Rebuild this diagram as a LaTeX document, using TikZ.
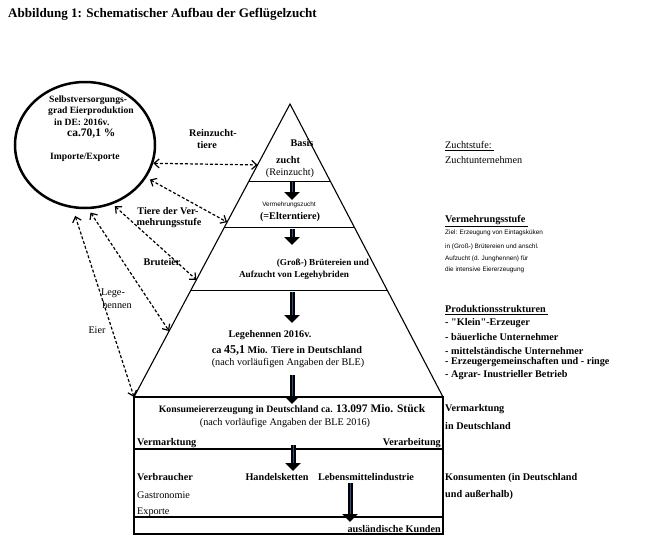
\documentclass[tikz,border=0pt]{standalone}
\usepackage{fontspec}
\setmainfont{Liberation Serif}
\newfontfamily\arialfont{Liberation Sans}
\usepackage{tikz}
\usetikzlibrary{shapes.geometric, arrows.meta, positioning, calc}
\definecolor{pfeilblau}{RGB}{45,80,140}

\begin{document}
\begin{tikzpicture}[x=1pt,y=-1pt,
    txt/.style={inner sep=0pt,font=\fontsize{10.2}{11}\selectfont},
    fett/.style={inner sep=0pt,font=\fontsize{10.2}{11}\selectfont\bfseries},
    klein/.style={inner sep=0pt,font=\fontsize{6.4}{7}\selectfont\arialfont},
    dickpfeil/.style={line width=5pt,-{Triangle[width=15pt,length=8pt]},
        postaction={draw=pfeilblau,line width=1pt,-,shorten >=8pt}},
    wechsel/.style={dash pattern=on 3pt off 2pt,line width=1.2pt,
        {Straight Barb[length=5pt,width=9pt]}-{Straight Barb[length=5pt,width=9pt]}}]
    \useasboundingbox (0,0) rectangle (660,557);

    % Titel
    \node[anchor=west,inner sep=0pt,font=\fontsize{13.1}{15}\selectfont\bfseries] (titel) at (8,14) {Abbildung 1: Schematischer Aufbau der Geflügelzucht};

    % Selbstversorgungsgrad
    \node[ellipse,draw,line width=2.5pt,minimum width=140pt,minimum height=126pt] (selbst) at (85,145) {};
    \node[fett,anchor=west,font=\fontsize{9.6}{10}\selectfont\bfseries] (sv1) at (49,100) {Selbstversorgungs-};
    \node[fett,anchor=west,font=\fontsize{9.6}{10}\selectfont\bfseries] (sv2) at (48,111) {grad Eierproduktion};
    \node[fett,anchor=west,font=\fontsize{9.6}{10}\selectfont\bfseries] (sv3) at (54,122) {in DE: 2016v.};
    \node[fett,anchor=west,font=\fontsize{11.5}{12}\selectfont\bfseries] (sv4) at (67,134) {ca.70,1 \%};
    \node[fett,anchor=west,font=\fontsize{9.6}{10}\selectfont\bfseries] (sv5) at (50,157) {Importe/Exporte};

    % Pyramide
    \coordinate (spitze) at (290,104);
    \coordinate (lu) at (134,397);
    \coordinate (ru) at (443,397);
    \draw[line width=1.1pt] (spitze) -- (lu) -- (ru) -- cycle;
    \foreach \t in {0.263,0.423,0.638}
        \draw[line width=1.1pt] ($(spitze)!\t!(lu)$) -- ($(spitze)!\t!(ru)$);

    % Basiszucht
    \node[fett] (basis) at (302,143) {Basis};
    \node[fett] (zucht) at (288,160) {zucht};
    \node[txt] (rein) at (290,173) {(Reinzucht)};

    % Vermehrungszucht
    \node[klein] (verm) at (289,205) {Vermehrungszucht};
    \node[fett] (eltern) at (290,217) {(=Elterntiere)};

    % Brütereien
    \node[fett,font=\fontsize{9.2}{10}\selectfont\bfseries] (brut1) at (323,263) {(Groß-) Brütereien und};
    \node[fett,font=\fontsize{9.2}{10}\selectfont\bfseries] (brut2) at (294,275) {Aufzucht von Legehybriden};

    % Legehennen
    \node[fett] (lh1) at (270,335) {Legehennen 2016v.};
    \node[fett] (lh2) at (287,350) {ca {\fontsize{12}{13}\selectfont 45,1} Mio. Tiere in Deutschland};
    \node[txt] (lh3) at (288,363) {(nach vorläufigen Angaben der BLE)};

    % Vermarktung
    \draw[line width=1.2pt] (lu) rectangle (443,534);
    \draw[line width=1.1pt] (134,449) -- (443,449);
    \draw[line width=1.1pt] (134,517) -- (443,517);
    \node[fett,font=\fontsize{9.8}{11}\selectfont\bfseries] (konsum) at (292,410) {Konsumeiererzeugung in Deutschland ca. {\fontsize{11.5}{12}\selectfont 13.097 Mio. Stück}};
    \node[txt] (konsum2) at (285,423) {(nach vorläufige Angaben der BLE 2016)};
    \node[fett,anchor=west] (vmk) at (137,443) {Vermarktung};
    \node[fett,anchor=east] (vab) at (441,443) {Verarbeitung};
    \node[fett,anchor=west] (verbr) at (137,477) {Verbraucher};
    \node[fett] (handel) at (277,477) {Handelsketten};
    \node[fett] (lmi) at (366,477) {Lebensmittelindustrie};
    \node[txt,anchor=west] (gastro) at (137,495) {Gastronomie};
    \node[txt,anchor=west] (export) at (137,512) {Exporte};
    \node[fett,anchor=east] (ausl) at (441,529) {ausländische Kunden};

    % dicke Pfeile
    \coordinate (p1o) at (292,182); \coordinate (p1u) at (292,200);
    \coordinate (p2o) at (292,229); \coordinate (p2u) at (292,245);
    \coordinate (p3o) at (292,292); \coordinate (p3u) at (292,323);
    \coordinate (p4o) at (292,375); \coordinate (p4u) at (292,404);
    \coordinate (p5o) at (293,445); \coordinate (p5u) at (293,471);
    \coordinate (p6o) at (350,483); \coordinate (p6u) at (350,522);
    \draw[dickpfeil] (p1o) -- (p1u);
    \draw[dickpfeil] (p2o) -- (p2u);
    \draw[dickpfeil] (p3o) -- (p3u);
    \draw[dickpfeil] (p4o) -- (p4u);
    \draw[dickpfeil] (p5o) -- (p5u);
    \draw[dickpfeil] (p6o) -- (p6u);

    % Austausch mit dem Ausland
    \coordinate (e1) at ($(spitze)!0.208!(lu)$);
    \coordinate (e2) at ($(spitze)!0.403!(lu)$);
    \coordinate (e3) at ($(spitze)!0.60!(lu)$);
    \coordinate (e4) at ($(spitze)!0.775!(lu)$);
    \draw[wechsel] (selbst.-15) -- (e1);
    \draw[wechsel,shorten <=4pt] (selbst.-28) -- (e2);
    \draw[wechsel,shorten <=3pt] (selbst.-65) -- (e3);
    \draw[wechsel,shorten <=4pt] (selbst.-87) -- (e4);
    \draw[wechsel,shorten <=8pt] (selbst.-101) -- (lu);
    \node[fett] (l1a) at (213,133) {Reinzucht-};
    \node[fett] (l1b) at (207,145) {tiere};
    \node[fett] (l2a) at (168,211) {Tiere der Ver-};
    \node[fett] (l2b) at (169,223) {mehrungsstufe};
    \node[fett] (l3) at (162,262) {Bruteier};
    \node[txt] (l4a) at (113,293) {Lege-};
    \node[txt] (l4b) at (117,305) {hennen};
    \node[txt] (l5) at (97,330) {Eier};

    % Erläuterungen rechts
    \node[txt,anchor=west] (r1) at (445,146) {\underline{Zuchtstufe:\ }};
    \node[txt,anchor=west] (r2) at (445,160) {Zuchtunternehmen};
    \node[fett,anchor=west] (r3) at (445,221) {\underline{Vermehrungsstufe\ }};
    \node[klein,anchor=west] (r4) at (445,233) {Ziel: Erzeugung von Eintagsküken};
    \node[klein,anchor=west] (r5) at (445,247) {in (Groß-) Brütereien und anschl.};
    \node[klein,anchor=west] (r6) at (445,259) {Aufzucht (d. Junghennen) für};
    \node[klein,anchor=west] (r7) at (445,270) {die intensive Eiererzeugung};
    \node[fett,anchor=west] (r8) at (445,310) {\underline{Produktionsstrukturen\ }};
    \node[fett,anchor=west] (r9) at (445,323) {- \textquotedbl Klein\textquotedbl-Erzeuger};
    \node[fett,anchor=west] (r10) at (445,337) {- bäuerliche Unternehmer};
    \node[fett,anchor=west] (r11) at (445,351) {- mittelständische Unternehmer};
    \node[fett,anchor=west] (r12) at (445,362) {- Erzeugergemeinschaften und - ringe};
    \node[fett,anchor=west] (r13) at (445,375) {- Agrar- Inustrieller Betrieb};
    \node[fett,anchor=west] (r14) at (445,409) {Vermarktung};
    \node[fett,anchor=west] (r15) at (445,426) {in Deutschland};
    \node[fett,anchor=west] (r16) at (445,478) {Konsumenten (in Deutschland};
    \node[fett,anchor=west] (r17) at (445,495) {und außerhalb)};
\end{tikzpicture}
\end{document}
